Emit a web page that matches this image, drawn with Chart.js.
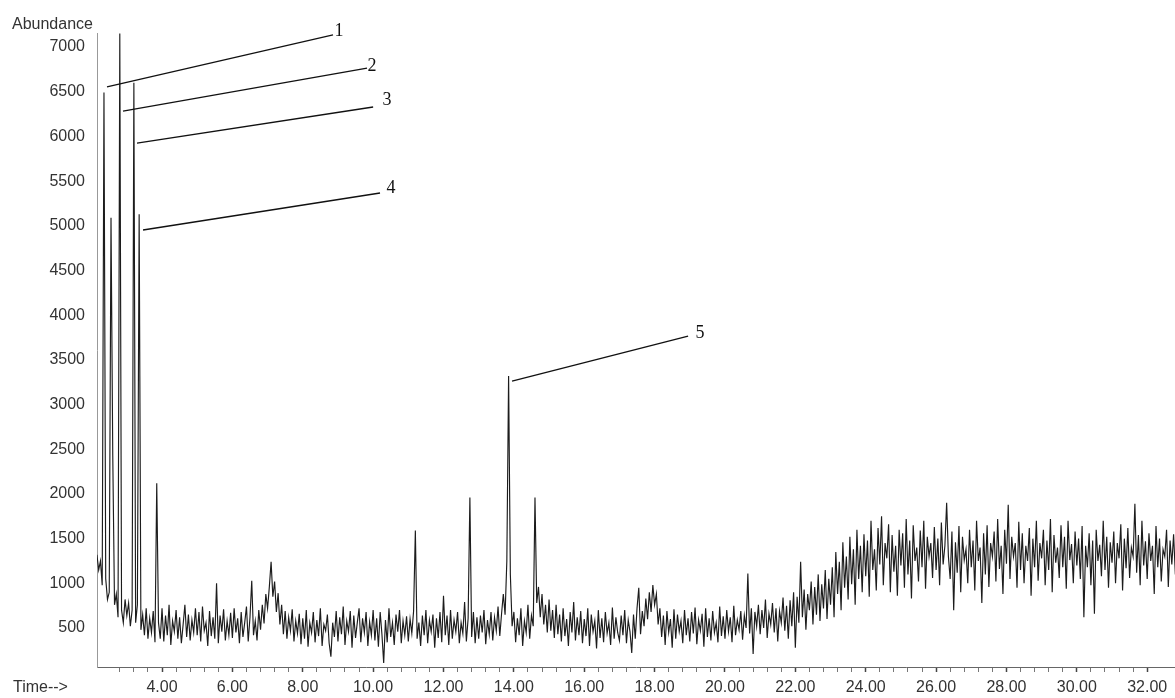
<!DOCTYPE html>
<html>
<head>
<meta charset="utf-8">
<script src="https://cdn.jsdelivr.net/npm/chart.js@4/dist/chart.umd.min.js"></script>
<style>
html,body{margin:0;padding:0;background:#fff;}
#wrap{width:1175px;height:698px;position:relative;}
</style>
</head>
<body>
<div id="wrap"><canvas id="c" width="1175" height="698"></canvas></div>
<script>
// ---- data ----
const scanStartMin = 2.15;      // retention time of first scan (min)
const scanIntervalMin = 0.05;   // time between scans (min)
const abundance = [
  // 2.15 - 2.95
  1320, 1150, 1250, 980, 6490, 1050, 820, 900, 5090, 2430, 760, 880, 620, 7150, 700, 560, 820,
  // 3.00 - 3.95
  640, 780, 520, 700, 6600, 560, 760, 5130, 480, 650, 420, 720, 380, 610, 450, 690, 340, 2120, 560, 380,
  // 4
  720, 350, 640, 420, 760, 310, 580, 460, 700, 380, 620, 330, 540, 760, 400, 650, 360, 590, 450, 720,
  // 5
  420, 680, 350, 740, 470, 560, 300, 690, 410, 620, 380, 1000, 330, 640, 460, 710, 360, 580, 420, 670,
  // 6
  390, 720, 450, 610, 330, 680, 400, 560, 740, 350, 620, 1030, 420, 580, 360, 700, 480, 760, 550, 880,
  // 7
  720, 960, 1240, 850, 1020, 680, 890, 540, 760, 430, 690, 380, 620, 470, 710, 350, 580, 440, 660, 320,
  // 8
  610, 380, 700, 290, 560, 450, 680, 340, 590, 410, 720, 300, 540, 470, 650, 330, 180, 560, 400, 690,
  // 9
  350, 620, 430, 740, 310, 580, 460, 690, 280, 640, 390, 560, 720, 340, 610, 450, 680, 300, 570, 420,
  // 10
  700, 360, 610, 290, 680, 430, 110, 590, 340, 720, 400, 560, 310, 650, 460, 700, 330, 580, 420, 630,
  // 11
  350, 600, 440, 690, 1590, 380, 560, 300, 640, 420, 700, 330, 590, 460, 650, 280, 610, 390, 680, 340,
  // 12
  860, 420, 640, 310, 700, 380, 590, 460, 680, 330, 560, 440, 790, 350, 610, 1960, 400, 680, 330, 620,
  // 13
  380, 640, 450, 700, 320, 590, 430, 680, 360, 620, 470, 740, 410, 660, 880, 650, 1250, 3320, 1100, 520,
  // 14
  680, 340, 610, 420, 720, 300, 580, 450, 760, 380, 640, 520, 1960, 780, 960, 620, 880, 540, 760, 450,
  // 15
  820, 470, 700, 390, 760, 430, 650, 350, 720, 410, 600, 300, 680, 450, 790, 360, 620, 420, 690, 330,
  // 16
  600, 410, 720, 300, 650, 460, 580, 270, 700, 390, 610, 340, 680, 440, 560, 310, 730, 380, 620, 450,
  // 17
  360, 640, 420, 700, 330, 590, 460, 220, 650, 380, 720, 950, 430, 690, 520, 830, 600, 900, 680, 980,
  // 18
  760, 880, 540, 720, 400, 640, 310, 690, 450, 600, 280, 710, 380, 650, 460, 580, 330, 700, 420, 610,
  // 19
  350, 680, 440, 730, 320, 590, 470, 660, 290, 720, 400, 610, 360, 690, 450, 560, 340, 740, 410, 630,
  // 20
  380, 700, 460, 620, 340, 750, 420, 590, 480, 690, 370, 640, 500, 1110, 440, 720, 210, 680, 520, 760,
  // 21
  430, 700, 500, 820, 390, 660, 540, 780, 450, 720, 350, 690, 560, 840, 470, 750, 380, 810, 520, 900,
  // 22
  280, 850, 560, 1240, 620, 930, 480, 880, 700, 1020, 540, 960, 650, 1100, 580, 990, 720, 1150, 600, 1050,
  // 23
  760, 1180, 620, 1350, 880, 1240, 700, 1460, 950, 1300, 820, 1520, 990, 1380, 760, 1600, 1050, 1420, 900, 1550,
  // 24
  1080, 1480, 850, 1700, 1150, 1380, 920, 1620, 1210, 1750, 980, 1450, 1280, 1660, 900, 1540, 1130, 1420, 860, 1600,
  // 25
  1200, 1560, 950, 1720, 1100, 1480, 830, 1650, 1250, 1400, 1020, 1590, 1180, 1700, 940, 1520, 1300, 1450, 1060, 1630,
  // 26
  1150, 1500, 980, 1680, 1210, 1420, 1900, 1300, 1050, 1580, 700, 1460, 1120, 1640, 900, 1520, 1260, 1380, 1000, 1600,
  // 27
  1180, 1480, 920, 1700, 1250, 1400, 780, 1560, 1100, 1650, 960, 1450, 1300, 1580, 1020, 1720, 1160, 1420, 880, 1600,
  // 28
  1220, 1880, 1050, 1520, 1300, 1450, 950, 1690, 1150, 1560, 1000, 1420, 1250, 1620, 860, 1500, 1180, 1700, 1030, 1450,
  // 29
  1280, 1600, 980, 1480, 1150, 1720, 900, 1540, 1230, 1400, 1060, 1650, 1180, 1520, 940, 1700, 1260, 1440, 1000, 1580,
  // 30
  1200, 1500, 1050, 1640, 620, 1420, 1180, 1560, 980, 1480, 660, 1600, 1250, 1430, 1080, 1700, 1150, 1520, 950, 1460,
  // 31
  1230, 1580, 1000, 1450, 1280, 1660, 920, 1500, 1170, 1620, 1060, 1400, 1300, 1890, 1120, 1540, 980, 1700, 1200, 1470,
  // 32.00 - 32.80
  1050, 1560, 1250, 1420, 880, 1640, 1180, 1500, 1020, 1380, 1300, 1600, 960, 1480, 1210, 1550, 1100
];

// numbered peak call-outs (time, abundance) in data units
const peakNumbers = ['1', '2', '3', '4', '5'];
const leaderFrom  = [[2.436, 6553], [2.891, 6284], [3.289, 5926], [3.460, 4953], [13.948, 3263]];
const leaderTo    = [[8.860, 7135], [9.827, 6765], [10.000, 6329], [10.196, 5367], [18.951, 3767]];
const numberAt    = [[9.031, 7179], [9.969, 6788], [10.395, 6407], [10.509, 5423], [19.293, 3800]];

// axis ticks
const timeLabelStep = 2;      // labelled ticks every 2 min
const timeMinorStep = 0.4;    // tick marks every 0.4 min
const abundanceTicks = [500, 1000, 1500, 2000, 2500, 3000, 3500, 4000, 4500, 5000, 5500, 6000, 6500, 7000];

const yTitle = 'Abundance';
const xTitle = 'Time-->';

// ---- chart ----
const onStep = (v, s) => Math.abs(v / s - Math.round(v / s)) < 1e-6;
const sans = '"Liberation Sans", Arial, Helvetica, sans-serif';

const points = abundance.map((v, i) => ({ x: scanStartMin + i * scanIntervalMin, y: v }));

const decor = {
  id: 'decor',
  afterDatasetsDraw(chart) {
    const { ctx, scales: { x, y } } = chart;
    ctx.save();
    ctx.strokeStyle = '#111';
    ctx.lineWidth = 1.3;
    ctx.fillStyle = '#111';
    ctx.font = '18px "Liberation Serif", "DejaVu Serif", serif';
    ctx.textAlign = 'center';
    ctx.textBaseline = 'middle';
    peakNumbers.forEach((n, i) => {
      ctx.beginPath();
      ctx.moveTo(x.getPixelForValue(leaderFrom[i][0]), y.getPixelForValue(leaderFrom[i][1]));
      ctx.lineTo(x.getPixelForValue(leaderTo[i][0]), y.getPixelForValue(leaderTo[i][1]));
      ctx.stroke();
      ctx.fillText(n, x.getPixelForValue(numberAt[i][0]), y.getPixelForValue(numberAt[i][1]));
    });
    ctx.font = '16px ' + sans;
    ctx.fillStyle = '#333';
    ctx.textAlign = 'left';
    ctx.textBaseline = 'alphabetic';
    ctx.fillText(yTitle, 12, 29);
    ctx.fillText(xTitle, 13, 692);
    ctx.restore();
  }
};

new Chart(document.getElementById('c'), {
  type: 'line',
  data: {
    datasets: [{
      data: points,
      borderColor: '#1c1c1c',
      borderWidth: 1.15,
      pointRadius: 0,
      tension: 0,
      fill: false
    }]
  },
  options: {
    responsive: false,
    animation: false,
    devicePixelRatio: 1,
    layout: { padding: { top: 33, left: 0, right: 0, bottom: 0 } },
    plugins: { legend: { display: false }, tooltip: { enabled: false }, title: { display: false } },
    scales: {
      x: {
        type: 'linear',
        position: 'bottom',
        min: 2.152,
        max: 32.79,
        afterBuildTicks: s => { s.ticks = s.ticks.filter(t => onStep(t.value, timeMinorStep)); },
        afterFit: s => { s.height = 31; },
        ticks: {
          stepSize: timeMinorStep,
          autoSkip: false,
          maxRotation: 0,
          minRotation: 0,
          padding: 6,
          color: '#333',
          font: { family: sans, size: 16 },
          callback: v => onStep(v, timeLabelStep) ? v.toFixed(2) : ''
        },
        grid: {
          display: true,
          drawOnChartArea: false,
          drawTicks: true,
          tickLength: 5,
          tickColor: c => (c.tick && onStep(c.tick.value, timeLabelStep)) ? '#444' : '#777',
          tickWidth: c => (c.tick && onStep(c.tick.value, timeLabelStep)) ? 1.5 : 1
        },
        border: { display: true, color: '#666', width: 1 }
      },
      y: {
        type: 'linear',
        position: 'left',
        min: 64,
        max: 7157,
        afterBuildTicks: s => { s.ticks = abundanceTicks.map(v => ({ value: v })); },
        afterFit: s => { s.width = 97; },
        ticks: {
          display: true,
          autoSkip: false,
          padding: 4,
          color: '#333',
          font: { family: sans, size: 16 },
          callback: v => String(v)
        },
        grid: { display: false },
        border: { display: true, color: '#999', width: 1 }
      }
    }
  },
  plugins: [decor]
});
</script>
</body>
</html>
